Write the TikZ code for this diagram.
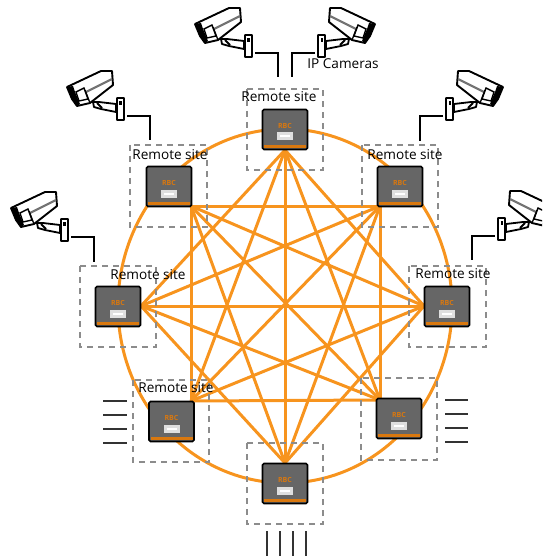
\documentclass[tikz,border=0pt]{standalone}
\usepackage{fontspec}
\setmainfont{Open Sans}
\usetikzlibrary{backgrounds}
\definecolor{meshorange}{HTML}{F7941E}
\definecolor{unitgray}{HTML}{666666}
\definecolor{barorange}{HTML}{D9780F}
\tikzset{>=stealth,
  siteunit/.style={draw=black, fill=unitgray, line width=1.7pt, rounded corners=1.5pt, minimum width=45pt, minimum height=40pt, inner sep=0pt, outer sep=0pt},
  sitebox/.style={draw=gray!90, line width=2pt, dash pattern=on 6pt off 5pt},
  sitelabel/.style={font=\fontsize{13.6}{15}\selectfont, inner sep=0pt},
  meshline/.style={draw=meshorange, line width=3pt},
  wire/.style={draw=black, line width=1.8pt},
  stub/.style={draw=black!80, line width=1.9pt},
  camera/.pic={
    \draw[black, line width=1.8pt, fill=white, line join=round] (-34,-14) -- (-28,-14) -- (-11,-12) -- (-11,-4) -- (-26,-7) -- (-33,-9) -- cycle;
    \draw[black, line width=1.8pt, fill=gray!30] (-30,-13) -- (-25,-8);
    \draw[black, line width=1.9pt, fill=white, rounded corners=0.5pt] (-10,-18) rectangle (-3,4);
    \fill[black] (-8,-15) rectangle (-5.5,-11);
    \draw[black, line width=1.9pt, fill=white, line join=round] (-60,-29) -- (-26,-45) -- (-15,-45) -- (-14,-31) -- (-37,-13) -- (-50,-10) -- (-55,-17) -- cycle;
    \fill[black] (-60,-29) -- (-55,-17) -- (-50,-10) -- (-47,-12) -- (-52,-24) -- (-54,-30) -- cycle;
    \draw[black, line width=1.4pt, fill=white] (-51,-24) -- (-43,-28) -- (-39,-17) -- (-48,-15) -- cycle;
    \draw[black!55, line width=2.2pt] (-41,-24) -- (-15,-37);
    \draw[black, line width=1.3pt] (-37,-13) -- (-42,-26);
  }
}
\begin{document}
\begin{tikzpicture}[x=1pt, y=-1pt]
\clip (0,0) rectangle (542,556);
\coordinate (hub) at (285,306);
\node[siteunit] (siteT) at (285,129.5) {};
\node[siteunit] (siteUL) at (169,186.5) {};
\node[siteunit] (siteUR) at (400,186.5) {};
\node[siteunit] (siteL) at (118,306.5) {};
\node[siteunit] (siteR) at (447,306.5) {};
\node[siteunit] (siteLL) at (171.5,421.5) {};
\node[siteunit] (siteLR) at (399,418.5) {};
\node[siteunit] (siteB) at (285,483.5) {};
\coordinate (meshT) at (285,150);
\coordinate (meshUL) at (191,206);
\coordinate (meshUR) at (380,206);
\coordinate (meshL) at (141,306);
\coordinate (meshR) at (424,306);
\coordinate (meshLL) at (191,401);
\coordinate (meshLR) at (380,400);
\coordinate (meshB) at (285,463);
\begin{scope}[on background layer]
\draw[meshline] (hub) ellipse [x radius=167pt, y radius=177pt];
\foreach \a/\b in {
  T/R, T/LR, T/B, T/LL, T/L,
  UR/LR, UR/B, UR/LL, UR/L, UR/UL,
  R/B, R/LL, R/L, R/UL,
  LR/LL, LR/L, LR/UL,
  B/L, B/UL,
  LL/UL}
  \draw[meshline] (mesh\a) -- (mesh\b);
\end{scope}
\foreach \unit in {siteT, siteUL, siteUR, siteL, siteR, siteLL, siteLR, siteB} {
  \fill[barorange] ([xshift=1.5pt,yshift=1.8pt]\unit.south west) rectangle ([xshift=-1.5pt,yshift=4.5pt]\unit.south east);
  \node[text=barorange, font=\fontsize{7}{7}\selectfont\bfseries, inner sep=0pt] (\unit brand) at ([yshift=3.5pt]\unit.center) {RBC};
  \node[fill=gray!25, minimum width=16pt, minimum height=8pt, inner sep=0pt] (\unit logo) at ([yshift=-7pt]\unit.center) {};
  \fill[white] ([xshift=-5pt,yshift=-1pt]\unit logo.center) rectangle ([xshift=5pt,yshift=1pt]\unit logo.center);
}
\draw[sitebox] (247,89) rectangle (323,170);
\draw[sitebox] (130,145) rectangle (207,227);
\draw[sitebox] (362,145) rectangle (438,227);
\draw[sitebox] (80,266) rectangle (156,347);
\draw[sitebox] (409,266) rectangle (486,347);
\draw[sitebox] (133,380) rectangle (209,462);
\draw[sitebox] (361,378) rectangle (437,460);
\draw[sitebox] (247,443) rectangle (323,524);
\node[sitelabel] (labelT) at (279,97) {Remote site};
\node[sitelabel] (labelUL) at (170,155) {Remote site};
\node[sitelabel] (labelUR) at (405,155) {Remote site};
\node[sitelabel] (labelL) at (148,275) {Remote site};
\node[sitelabel] (labelR) at (453,274) {Remote site};
\node[sitelabel] (labelLL) at (176,388) {Remote site};
\node[sitelabel] (labelCam) at (343,64) {IP Cameras};
\foreach \cam/\cx/\cy/\wx/\wy/\flip in {camA/255/53/278/77/1, camB/315/53/292/77/-1, camC/127/116/150/140/1, camD/443/116/420/141/-1, camE/71/237/94/262/1, camF/495/236/472/260/-1} {
  \coordinate (\cam) at (\cx,\cy);
  \coordinate (\cam end) at (\wx,\wy);
  \pic[xscale=\flip] at (\cam) {camera};
  \draw[wire] (\cam) -| (\cam end);
}
\foreach \y in {401,415,429,443} {
  \coordinate (stubL\y) at (103,\y);
  \draw[stub] (stubL\y) -- ++(24,0);
}
\foreach \y in {400,414,428,442} {
  \coordinate (stubR\y) at (445,\y);
  \draw[stub] (stubR\y) -- ++(23,0);
}
\foreach \x in {267,280,293,306} {
  \coordinate (stubB\x) at (\x,531);
  \draw[stub] (stubB\x) -- ++(0,25);
}
\end{tikzpicture}
\end{document}
